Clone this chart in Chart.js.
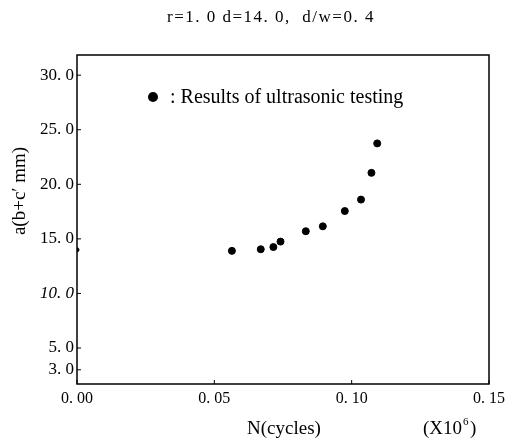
<!DOCTYPE html>
<html>
<head>
<meta charset="utf-8">
<script src="https://cdn.jsdelivr.net/npm/chart.js@4/dist/chart.umd.min.js"></script>
<style>
    html, body { margin: 0; padding: 0; background: #fff; }
    #wrap { width: 520px; height: 441px; }
</style>
</head>
<body>
<div id="wrap"><canvas id="chart"></canvas></div>
<script>
    // ===== 데이터 =====
    const nCycles = [0.0, 0.0564, 0.0669, 0.0715, 0.0741, 0.0833, 0.0895, 0.0975, 0.1034, 0.1072, 0.1093];
    const crackDepth = [14.0, 13.9, 14.05, 14.25, 14.75, 15.7, 16.15, 17.55, 18.6, 21.05, 23.75];
    const yTicks = [3, 5, 10, 15, 20, 25, 30];
    const xTicks = [0, 0.05, 0.10, 0.15];

    const titleText = 'r=1. 0 d=14. 0,  d/w=0. 4';
    const legendText = ': Results of ultrasonic testing';
    const serif = '"Liberation Serif", "DejaVu Serif", serif';

    // ===== 텍스트, 테두리, 안쪽 눈금 =====
    const decoPlugin = {
        id: 'deco',
        afterDraw: function (chart) {
            const ctx = chart.ctx;
            const a = chart.chartArea;
            const xs = chart.scales.x;
            const ys = chart.scales.y;
            ctx.save();
            ctx.strokeStyle = '#000';
            ctx.lineWidth = 1.5;
            ctx.strokeRect(a.left, a.top, a.right - a.left, a.bottom - a.top);

            ctx.lineWidth = 1;
            ctx.beginPath();
            xTicks.forEach(function (v) {
                const px = xs.getPixelForValue(v);
                ctx.moveTo(px, a.bottom);
                ctx.lineTo(px, a.bottom - 4);
            });
            yTicks.forEach(function (v) {
                const py = ys.getPixelForValue(v);
                ctx.moveTo(a.left, py);
                ctx.lineTo(a.left + 4, py);
            });
            ctx.stroke();

            ctx.fillStyle = '#000';
            ctx.textBaseline = 'middle';

            // 제목
            ctx.font = '17px ' + serif;
            ctx.textAlign = 'left';
            ctx.letterSpacing = '1.5px';
            ctx.fillText(titleText, 167, 18);
            ctx.letterSpacing = '0px';

            // 범례
            ctx.beginPath();
            ctx.arc(153, 97, 5, 0, Math.PI * 2);
            ctx.fill();
            ctx.font = '20px ' + serif;
            ctx.fillText(legendText, 170, 98);

            // 축 제목
            ctx.font = '19px ' + serif;
            ctx.textAlign = 'center';
            ctx.fillText('N(cycles)', 284, 429);
            ctx.textAlign = 'left';
            ctx.fillText('(X10', 423, 429);
            const w = ctx.measureText('(X10').width;
            ctx.font = '11px ' + serif;
            ctx.fillText('6', 423 + w + 1, 422);
            ctx.font = '19px ' + serif;
            ctx.fillText(')', 423 + w + 8, 429);

            ctx.textAlign = 'center';
            ctx.translate(20, 191);
            ctx.rotate(-Math.PI / 2);
            ctx.fillText('a(b+c\u2032 mm)', 0, 0);
            ctx.restore();
        }
    };

    new Chart(document.getElementById('chart'), {
        type: 'scatter',
        data: {
            datasets: [{
                data: nCycles.map(function (n, i) { return { x: n, y: crackDepth[i] }; }),
                backgroundColor: '#000',
                borderColor: '#000',
                pointRadius: function (c) { return c.dataIndex === 0 ? 2 : 3.5; },
                pointHoverRadius: 3.5
            }]
        },
        options: {
            responsive: true,
            maintainAspectRatio: false,
            animation: false,
            layout: { padding: { top: 55, right: 31, left: 0, bottom: 0 } },
            plugins: {
                legend: { display: false },
                tooltip: { enabled: false }
            },
            scales: {
                x: {
                    type: 'linear',
                    min: 0,
                    max: 0.15,
                    grid: { display: false, drawTicks: false },
                    border: { display: false },
                    afterBuildTicks: function (scale) {
                        scale.ticks = xTicks.map(function (v) { return { value: v }; });
                    },
                    afterFit: function (scale) { scale.height = 57; },
                    ticks: {
                        color: '#000',
                        padding: 5,
                        maxRotation: 0,
                        font: { family: serif, size: 16 },
                        callback: function (v) { return v.toFixed(2).replace('.', '. '); }
                    }
                },
                y: {
                    type: 'linear',
                    min: 1.7,
                    max: 31.85,
                    grid: { display: false, drawTicks: false },
                    border: { display: false },
                    afterBuildTicks: function (scale) {
                        scale.ticks = yTicks.map(function (v) { return { value: v }; });
                    },
                    afterFit: function (scale) { scale.width = 77; },
                    ticks: {
                        color: '#000',
                        padding: 3,
                        font: function (c) {
                            return { family: serif, size: 17, style: c.tick && c.tick.value === 10 ? 'italic' : 'normal' };
                        },
                        callback: function (v) { return v.toFixed(1).replace('.', '. '); }
                    }
                }
            }
        },
        plugins: [decoPlugin]
    });
</script>
</body>
</html>
